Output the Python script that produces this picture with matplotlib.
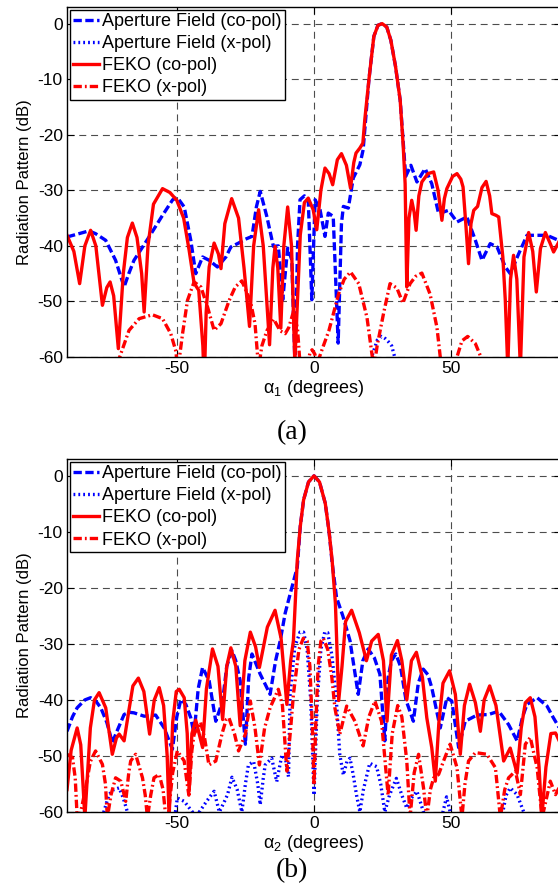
import numpy as np
import matplotlib
matplotlib.use("Agg")
import matplotlib.pyplot as plt

plt.rcParams['font.family'] = ['Liberation Sans', 'DejaVu Sans']
plt.rcParams['mathtext.fontset'] = 'custom'
plt.rcParams['mathtext.rm'] = 'Liberation Sans'
plt.rcParams['mathtext.it'] = 'Liberation Sans:italic'
plt.rcParams['lines.scale_dashes'] = False
plt.rcParams['axes.unicode_minus'] = False

# (a) alpha_1 cut : [degrees, dB]
a_ap_co = [[-90, -38.4], [-85.6, -37.8], [-82, -37.3], [-79.6, -37.8], [-75.9, -39.0], [-72.3, -42.6],
           [-69.2, -47.4], [-67.5, -45], [-65.6, -42.6], [-60.1, -38.4], [-55.2, -34.5], [-51.5, -31.7],
           [-49.8, -31.3], [-47.3, -33.0], [-44.9, -39.0], [-43.1, -45.0], [-40.6, -42.0], [-38.2, -42.6],
           [-35.2, -43.8], [-32.1, -42.0], [-30.3, -40.2], [-27.5, -39.5], [-25, -38.8], [-22.6, -38.3],
           [-21, -33], [-19.6, -30.2], [-17.2, -34.7], [-14.8, -40.1], [-13, -40], [-11.4, -49.7],
           [-9.6, -40.4], [-8.1, -42.5], [-6.9, -62], [-6, -40], [-5.1, -31.7], [-3.5, -31],
           [-2.1, -31.7], [-0.8, -49.7], [0.4, -31.7], [2.2, -33.5], [4.0, -38.3], [5.2, -34.1],
           [7.0, -34.7], [8.8, -57.5], [10.0, -36], [10.7, -32.9], [12.5, -33.2], [14.3, -27.8],
           [16.7, -25.4], [17.9, -22.7], [20, -10.1], [21.8, -2.3], [23.3, -0.3], [24.8, 0],
           [26.5, -0.6], [28, -3], [29.7, -7.7], [31.4, -13.8], [32.6, -22], [33.4, -27.5],
           [35.3, -25.5], [37.5, -28.5], [40.5, -26.1], [42.9, -28.8], [45.4, -34.2], [49, -33.6],
           [52.1, -35.7], [55.7, -34.8], [58.8, -39.0], [61.2, -42.6], [64.2, -39.6], [66.7, -40.2],
           [69.7, -43.8], [71.5, -45.0], [74.6, -41.4], [77.6, -38.1], [81.3, -38.1], [84.9, -38.1],
           [90, -39.2]]
a_ap_x = [[-90, -72], [-30, -68], [0, -70], [15, -66], [20, -61], [21.5, -59.3], [23, -57],
          [24.6, -56.3], [26, -56.7], [27, -57.2], [28.3, -58], [29.4, -60], [30.5, -64],
          [40, -70], [90, -72]]
a_feko_co = [[-90, -38.1], [-87.5, -41], [-85.4, -46.8], [-83.5, -40], [-81.4, -37.2], [-79.5, -40],
             [-77.1, -50.7], [-75.5, -47.5], [-74.3, -46.5], [-73, -49], [-71.3, -58.5], [-69.5, -45],
             [-68, -38.5], [-66.2, -35.9], [-64.5, -38.5], [-62.8, -45], [-61.9, -51.9], [-60.5, -40],
             [-58.5, -32.5], [-55.2, -29.7], [-52.5, -30.4], [-50, -31.8], [-47.5, -35], [-45.5, -40.8],
             [-43.7, -46.7], [-42, -48], [-40.5, -58], [-40, -65], [-39.3, -52], [-38.2, -43.8],
             [-36.4, -39.5], [-34.8, -41.5], [-33.9, -44.1], [-32.5, -36], [-30, -31.5], [-27.5, -35],
             [-25.5, -44], [-23.5, -54.5], [-22, -40], [-20.2, -33.5], [-18.5, -40], [-16.2, -57.8],
             [-15, -44], [-14.2, -40.1], [-13.2, -44], [-12.1, -54.8], [-11, -40], [-9.6, -33.0],
             [-8.2, -40], [-7.0, -61], [-5, -38], [-3.5, -32.2], [-2.1, -31.4], [-0.3, -33.5],
             [1.0, -37.1], [2.5, -30], [4.0, -26.0], [5.5, -27], [6.8, -29], [8.5, -24.5],
             [10.0, -23.4], [11.8, -25.5], [13.3, -29.6], [14.5, -25], [15.3, -23.3], [16.7, -22.4],
             [17.8, -21.5], [18.5, -17.3], [20.0, -10.1], [21.8, -2.3], [23.3, -0.3], [24.8, 0],
             [26.5, -0.6], [28.0, -3], [29.7, -7.7], [31.4, -13.8], [32.5, -22], [33.2, -28.8],
             [33.8, -47.4], [34.6, -35], [35.6, -31.8], [36.5, -34], [37.2, -37.2], [38.2, -31],
             [39.3, -28.5], [41.5, -27], [43.6, -26.7], [45.2, -30], [46.6, -35.4], [47.5, -31.5],
             [48.4, -29.7], [50.5, -27.5], [52.1, -27.0], [53.5, -28], [54.3, -29.4], [55.3, -36],
             [56.3, -43.2], [57.2, -36], [58.2, -33.6], [59.6, -32.9], [61.2, -29.5], [62.7, -28.4],
             [64, -31], [64.8, -34.2], [66.3, -34.5], [67.3, -34.8], [68.8, -42], [69.7, -49.8],
             [70.6, -62], [71.6, -46], [72.7, -41.7], [73.9, -46], [75.2, -62], [76.5, -42],
             [78.2, -37.6], [79.7, -41], [81.0, -48.3], [82.5, -40.5], [84.3, -37.6], [86, -39.5],
             [87.3, -41.1], [89, -39.5], [90, -38.5]]
a_feko_x = [[-90, -68], [-75, -64], [-71.5, -61], [-70.8, -60], [-67.4, -55.2], [-63.7, -53.1],
            [-58.9, -52.4], [-55.2, -53.1], [-52.2, -55.8], [-50.3, -59], [-49.8, -62], [-49, -60],
            [-47.9, -55.8], [-46.1, -49.8], [-43.7, -46.5], [-41.2, -47.4], [-38.8, -51], [-36.4, -55.2],
            [-33.9, -54], [-30.9, -49.8], [-28.7, -47.4], [-26.3, -46.3], [-23.2, -49.9], [-21.5, -54],
            [-20.2, -62], [-19, -58], [-17.2, -55.3], [-14.7, -53.2], [-12.3, -55.3], [-10.5, -55.8],
            [-9.2, -54.7], [-7.4, -51.7], [-6, -55], [-5, -62], [-3, -63], [-1.5, -59.3], [-0.7, -58.7],
            [0.3, -59.5], [1.1, -61], [2, -60], [2.9, -58.7], [5.4, -55.3], [9.0, -48.6], [11, -46],
            [13.3, -44.7], [16.3, -46.8], [19.3, -52.9], [21.8, -62], [23, -58], [25.4, -52],
            [27.7, -46.8], [30.2, -47.6], [32.4, -50.3], [35.0, -46.8], [37, -45.5], [39.3, -44.9],
            [42.3, -48.7], [44.8, -54.7], [46, -60], [47, -64], [51, -64], [52.1, -60], [53.9, -57.1],
            [56.0, -56.3], [58.8, -57.6], [60.8, -60], [62, -64], [90, -70]]

# (b) alpha_2 cut : [degrees, dB]
b_ap_co = [[-90, -45.6], [-88, -43], [-86.3, -41.4], [-83.5, -40], [-81.4, -39.6], [-79.5, -40.2],
           [-77.7, -41.4], [-75.5, -44], [-73.5, -47.6], [-71.3, -45], [-69.2, -42.6], [-67.5, -42.2],
           [-65.6, -42.3], [-61.9, -42.9], [-57.7, -42.7], [-54.6, -45], [-51.6, -48.8], [-50, -43],
           [-48.5, -39.9], [-46.7, -40.8], [-44.9, -43.2], [-43.7, -46.1], [-42.2, -38], [-40.6, -34.2],
           [-38.2, -36.6], [-35.8, -43.8], [-33.3, -40.2], [-31.8, -34], [-29.9, -31.2], [-28.5, -33],
           [-26.9, -36.6], [-25, -47.9], [-23.8, -36], [-22.6, -31.8], [-19.6, -35.4], [-16, -39],
           [-14, -33], [-12.3, -29.4], [-10.5, -24.5], [-8.7, -21.1], [-6.1, -16.3], [-5, -9],
           [-3.8, -4.3], [-2, -1.1], [0, 0], [2, -1.1], [4.1, -4.9], [5.5, -10], [6.6, -15.5],
           [8.2, -21.7], [10.5, -25], [13.1, -29.4], [16.1, -39.0], [17.8, -33], [19.7, -30.9],
           [22, -32.5], [24, -35.4], [25.8, -47.3], [27, -36], [28.2, -33.0], [29.8, -31.8],
           [31.5, -34], [33.5, -40], [36.2, -43.8], [38, -37], [39.8, -34.5], [41.5, -35.5],
           [42.9, -37.8], [46.0, -45], [48.4, -39.6], [50.2, -40.2], [52.7, -48.5], [55.1, -43.8],
           [59.4, -42.7], [63.6, -42.6], [67.3, -42], [70.9, -44.4], [74.0, -47.3], [76, -43],
           [77.6, -40.8], [81.3, -39.6], [84.9, -41.1], [87, -43], [90, -45.5]]
b_ap_x = [[-90, -66], [-80, -64], [-76.6, -60], [-74.7, -56.9], [-73, -56], [-71, -55.7], [-69.5, -57.5],
          [-68, -60], [-66, -64], [-52, -64], [-50.5, -60], [-49.8, -57.5], [-47.3, -58.1], [-44.3, -60],
          [-43, -62], [-41.8, -60], [-39, -58], [-36.4, -56.3], [-34.5, -60], [-33, -58.5], [-31.5, -56.9],
          [-29.9, -53.8], [-28, -56], [-26.3, -60], [-25, -55], [-23.9, -51.6], [-22, -51], [-20.5, -55],
          [-19.6, -58.7], [-18.5, -54], [-17.8, -51.6], [-15.4, -50.4], [-13.6, -54.6], [-11.7, -49.8],
          [-10.2, -51], [-9.3, -53.7], [-8.7, -39], [-7, -30.5], [-5.1, -27.9], [-3.8, -27.9],
          [-2.5, -31], [-1.2, -40], [0, -57], [1.2, -40], [2.5, -31], [3.9, -27.9], [5, -28],
          [6.5, -32], [8, -39], [9.4, -49.8], [10.7, -53.4], [12, -51], [13.1, -50.4], [14.3, -53.4],
          [15.5, -57], [16.7, -60], [18, -56], [20.3, -51.3], [22.8, -51.9], [24.3, -55], [25.8, -60],
          [27.5, -57], [30, -54], [32, -57], [33.8, -59.3], [35.5, -57.5], [37.5, -56.3], [39.9, -60],
          [41, -63], [46, -62], [48.3, -57.3], [49.6, -60], [51, -64], [68, -62], [70, -57],
          [71.5, -55.7], [74, -56.9], [76.4, -60], [78, -64], [90, -66]]
b_feko_co = [[-90, -56], [-88.5, -49], [-86.3, -45], [-85, -48], [-83.5, -61], [-81.5, -45], [-80, -40],
             [-78.3, -38.7], [-75.9, -41.4], [-73.5, -49.7], [-72, -46.8], [-71, -46.1], [-69.2, -47.3],
             [-67.5, -42], [-66, -37.5], [-64, -36.1], [-62, -38.5], [-59.9, -46.1], [-58.2, -40],
             [-56.4, -37.8], [-54.8, -41], [-53.5, -50], [-52.8, -61], [-51.5, -44], [-50.2, -38.5],
             [-49.1, -38.1], [-47.3, -39.6], [-46.2, -46], [-45.5, -56.3], [-44.5, -46], [-43.1, -43.6],
             [-40.6, -48.5], [-39.2, -38], [-37, -30.9], [-35, -34], [-33.3, -43.5], [-31.8, -34],
             [-30.3, -30.7], [-28.5, -34], [-26.9, -44.6], [-25.2, -33], [-23.2, -27.9], [-21.3, -30.5],
             [-19.9, -34.2], [-17, -27], [-14.2, -24.0], [-12, -29], [-9.9, -40.8], [-8.5, -33],
             [-7.5, -29.4], [-6.1, -15.1], [-5, -9], [-3.8, -4.3], [-2, -1.1], [0, 0], [2, -1.1],
             [4.1, -4.9], [5.5, -10], [6.6, -15.1], [7.8, -22.8], [9.0, -40.1], [10.2, -34],
             [11.5, -26], [13.7, -24.0], [16.5, -28], [19.1, -33.0], [21, -29.5], [23.4, -28.3],
             [25.3, -33], [26.6, -43.8], [28.2, -32], [30.4, -29.4], [32, -33], [33.8, -40],
             [35.5, -33], [37.3, -31.5], [39.5, -36], [41.1, -43.2], [42.9, -48.5], [44.2, -54.5],
             [45.5, -44], [47, -37], [49.4, -34.8], [51.5, -39], [53.3, -49.7], [54.8, -41],
             [56.7, -37.2], [58.8, -40.5], [60.6, -45.6], [62, -40], [64.0, -37.5], [66.3, -41],
             [68, -47], [69.1, -50.9], [71.5, -48.6], [74, -53.1], [75.5, -45], [77, -40.5],
             [78.8, -39.6], [80.5, -43], [82, -52], [83, -61], [84.5, -52], [86.3, -46], [88, -45.9],
             [90, -48]]
b_feko_x = [[-90, -49.7], [-88, -50.3], [-87, -54], [-86.3, -61], [-85, -60], [-83.2, -55.7],
            [-81.5, -51], [-79.6, -49.1], [-77.1, -51.5], [-76, -55], [-75.3, -61], [-74, -57],
            [-72.3, -53.9], [-70.4, -54.5], [-68.6, -58.1], [-67.5, -53], [-66.8, -50.9], [-65, -49.7],
            [-62.5, -53.9], [-61.5, -57], [-60.7, -61], [-59.5, -57], [-58.3, -53.9], [-56.4, -53.3],
            [-55, -56], [-54, -61], [-53, -60], [-51.5, -53], [-49.8, -49.1], [-47.3, -50.9],
            [-46.2, -55], [-45.6, -57], [-44.5, -49], [-43.7, -46.1], [-41.3, -44], [-39.8, -47],
            [-38.3, -51.6], [-35.8, -50.9], [-33.5, -46], [-32, -43.5], [-31, -43.2], [-29, -46],
            [-27.5, -49.1], [-25, -46.1], [-23.2, -40.2], [-21.5, -45], [-19.9, -51.6], [-18, -45],
            [-16, -41.4], [-13, -38.1], [-11.5, -41], [-9.9, -52.7], [-8.5, -45], [-7.5, -39],
            [-5.5, -31], [-3.9, -29], [-2.5, -29.5], [-1.5, -34], [-0.6, -45], [0, -55.2], [0.6, -45],
            [1.5, -34], [2.5, -29.5], [3.4, -29], [5, -31], [6.5, -36], [7.6, -41.4], [9.4, -46.1],
            [11.9, -41.1], [14.9, -43.8], [17.9, -48.2], [20, -43], [22.2, -40.2], [24.6, -43.8],
            [27, -57], [28.5, -46], [30.5, -41], [32, -43], [33.8, -50.9], [35, -61], [36.5, -53],
            [38.1, -49.7], [39.9, -55.7], [41.1, -61], [42.4, -56], [43.6, -53.9], [45.4, -53.3],
            [47.2, -50.9], [49.6, -47.9], [52.1, -52.1], [53.9, -61], [55, -55], [56.3, -50.9],
            [58.8, -49.4], [63.0, -49.7], [66.1, -52.1], [67.9, -61], [69.5, -56], [70.9, -53.9],
            [73.4, -52.7], [75.2, -56.9], [77, -47.9], [78.8, -46.7], [81.3, -52.1], [83.1, -61],
            [84.5, -58], [86.1, -54.5], [88, -56.9], [90, -55]]

labels = ['Aperture Field (co-pol)', 'Aperture Field (x-pol)', 'FEKO (co-pol)', 'FEKO (x-pol)']
xticks = [-50, 0, 50]
yticks = [0, -10, -20, -30, -40, -50, -60]

fig = plt.figure(figsize=(5.58, 8.92), dpi=100)
ax1 = fig.add_axes([0.1201, 0.5998, 0.8853, 0.3924])
ax2 = fig.add_axes([0.1201, 0.0897, 0.8853, 0.3957])


def panel(ax, ap_co, ap_x, feko_co, feko_x, sub):
    ap_co, ap_x, feko_co, feko_x = (np.array(s) for s in (ap_co, ap_x, feko_co, feko_x))
    ax.plot(ap_co[:, 0], ap_co[:, 1], color='#0000ff', lw=2.4, dashes=(6, 2.5), label=labels[0])
    ax.plot(ap_x[:, 0], ap_x[:, 1], color='#0000ff', lw=2.4, dashes=(1.3, 2.2), label=labels[1])
    ax.plot(feko_co[:, 0], feko_co[:, 1], color='#ff0000', lw=2.4, label=labels[2])
    ax.plot(feko_x[:, 0], feko_x[:, 1], color='#ff0000', lw=2.4, dashes=(6, 2.2, 1.3, 2.2), label=labels[3])
    ax.set_xlim(-90, 90)
    ax.set_ylim(-60, 3)
    ax.set_xticks(xticks)
    ax.set_yticks(yticks)
    ax.tick_params(direction='in', length=5, width=0.8, labelsize=12.5, top=True, right=True, pad=3)
    ax.grid(True, color='0.3', lw=0.8, dashes=(5, 3.5))
    for sp in ax.spines.values():
        sp.set_linewidth(1.0)
    ax.set_ylabel('Radiation Pattern (dB)', fontsize=12, labelpad=4)
    ax.set_xlabel(r'$\mathregular{\alpha_{%s}}$ (degrees)' % sub, fontsize=13, labelpad=1)
    leg = ax.legend(loc='upper left', fontsize=13, handlelength=1.4, handletextpad=0.2,
                    borderpad=0.2, labelspacing=0.28, borderaxespad=0.15, fancybox=False,
                    framealpha=1, edgecolor='black')
    leg.get_frame().set_linewidth(1.0)


panel(ax1, a_ap_co, a_ap_x, a_feko_co, a_feko_x, '1')
panel(ax2, b_ap_co, b_ap_x, b_feko_co, b_feko_x, '2')

fig.text(0.523, 1 - 433 / 892, '(a)', ha='center', va='center', fontsize=20, family='Liberation Serif')
fig.text(0.523, 1 - 871 / 892, '(b)', ha='center', va='center', fontsize=20, family='Liberation Serif')

fig.savefig('out.png', dpi=100)
